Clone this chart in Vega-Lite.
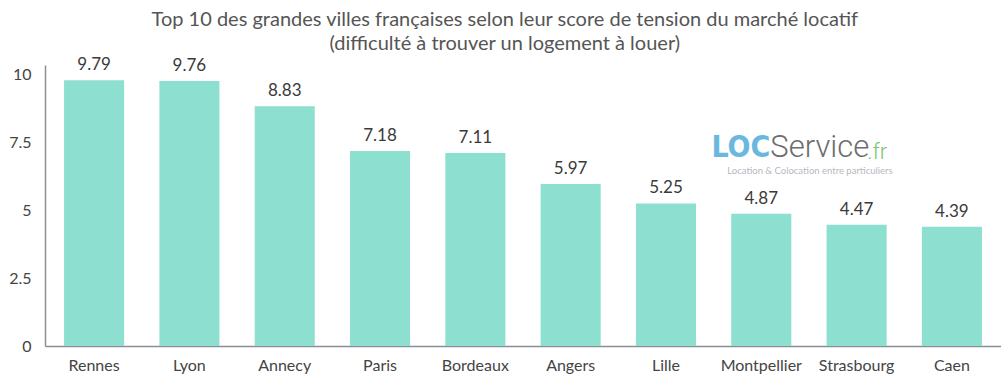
{
  "$schema": "https://vega.github.io/schema/vega-lite/v6.json",
  "width": 1001,
  "height": 386,
  "autosize": {"type": "fit", "contains": "padding"},
  "padding": {"left": 8, "right": 0, "top": 15, "bottom": 13},
  "background": "white",
  "config": {"view": {"stroke": null}, "font": "Lato"},
  "title": {
    "text": ["Top 10 des grandes villes françaises selon leur score de tension du marché locatif", "(difficulté à trouver un logement à louer)"],
    "font": "Lato",
    "fontSize": 20,
    "fontWeight": "normal",
    "color": "#555555",
    "anchor": "middle",
    "frame": "bounds",
    "lineHeight": 24,
    "offset": 2
  },
  "datasets": {
    "scores": [
      {"city": "Rennes", "score": 9.79},
      {"city": "Lyon", "score": 9.76},
      {"city": "Annecy", "score": 8.83},
      {"city": "Paris", "score": 7.18},
      {"city": "Bordeaux", "score": 7.11},
      {"city": "Angers", "score": 5.97},
      {"city": "Lille", "score": 5.25},
      {"city": "Montpellier", "score": 4.87},
      {"city": "Strasbourg", "score": 4.47},
      {"city": "Caen", "score": 4.39}
    ],
    "logo": [
      {"city": "Montpellier", "score": 7.3, "part": "LOC"},
      {"city": "Montpellier", "score": 7.3, "part": "Service"},
      {"city": "Montpellier", "score": 7.3, "part": ".fr"},
      {"city": "Montpellier", "score": 6.45, "part": "Location & Colocation entre particuliers"}
    ]
  },
  "encoding": {
    "x": {
      "field": "city",
      "type": "nominal",
      "sort": null,
      "scale": {"paddingInner": 0.37, "paddingOuter": 0.2},
      "axis": {
        "title": null,
        "labelAngle": 0,
        "labelFont": "Lato",
        "labelFontSize": 16,
        "labelColor": "#444444",
        "labelPadding": 11,
        "ticks": false,
        "domainColor": "#8a8f96",
        "domainWidth": 1.5
      }
    },
    "y": {
      "field": "score",
      "type": "quantitative",
      "scale": {"domain": [0, 10.35], "nice": false},
      "axis": {
        "title": null,
        "values": [0, 2.5, 5, 7.5, 10],
        "format": ".1~f",
        "grid": false,
        "ticks": false,
        "labelFont": "Lato",
        "labelFontSize": 16,
        "labelColor": "#444444",
        "labelPadding": 14,
        "domainColor": "#8a8f96",
        "domainWidth": 1.5
      }
    }
  },
  "layer": [
    {
      "data": {"name": "scores"},
      "mark": {"type": "bar", "color": "#8ddfcf"}
    },
    {
      "data": {"name": "scores"},
      "mark": {"type": "text", "baseline": "bottom", "dy": -6, "font": "Lato", "fontSize": 17, "color": "#3a3a3a"},
      "encoding": {"text": {"field": "score", "type": "quantitative", "format": ".2f"}}
    },
    {
      "data": {"name": "logo"},
      "transform": [{"filter": "datum.part == 'LOC'"}],
      "mark": {"type": "text", "align": "right", "baseline": "middle", "dx": 9, "font": "'DejaVu Sans Condensed', Lato", "fontWeight": "bold", "fontSize": 30, "color": "#6ab8dd"},
      "encoding": {"text": {"field": "part"}}
    },
    {
      "data": {"name": "logo"},
      "transform": [{"filter": "datum.part == 'Service'"}],
      "mark": {"type": "text", "align": "left", "baseline": "middle", "dx": 9, "font": "Roboto", "fontWeight": 300, "fontSize": 31, "color": "#6d6d6d"},
      "encoding": {"text": {"field": "part"}}
    },
    {
      "data": {"name": "logo"},
      "transform": [{"filter": "datum.part == '.fr'"}],
      "mark": {"type": "text", "align": "left", "baseline": "middle", "dx": 106, "dy": 4, "font": "Roboto", "fontWeight": 300, "fontSize": 22, "color": "#7cc576"},
      "encoding": {"text": {"field": "part"}}
    },
    {
      "data": {"name": "logo"},
      "transform": [{"filter": "datum.part == 'Location & Colocation entre particuliers'"}],
      "mark": {"type": "text", "align": "left", "baseline": "middle", "dx": -34, "font": "Lato", "fontSize": 9.5, "color": "#b5b9bf"},
      "encoding": {"text": {"field": "part"}}
    }
  ]
}
